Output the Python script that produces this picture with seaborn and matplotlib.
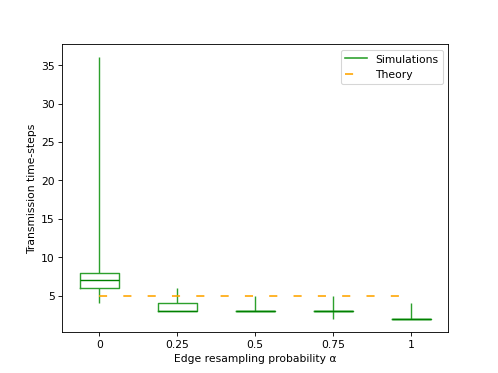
import numpy as np
import pandas as pd
import matplotlib
matplotlib.use("Agg")
import matplotlib.pyplot as plt
import seaborn as sns

# --- data ---
alphas = ["0", "0.25", "0.5", "0.75", "1"]
# small samples that reproduce each box (min, q1, median, q3, max)
sim_a0 = [4, 6, 7, 8, 36]
sim_a025 = [3, 3, 3, 4, 6]
sim_a05 = [3, 3, 3, 3, 5]
sim_a075 = [2, 3, 3, 3, 5]
sim_a1 = [2, 2, 2, 2, 4]
theory = [5, 5, 5, 5, 5]

samples = [sim_a0, sim_a025, sim_a05, sim_a075, sim_a1]
df = pd.DataFrame({
    "alpha": [a for a, s in zip(alphas, samples) for _ in s],
    "steps": [v for s in samples for v in s],
})

fig, ax = plt.subplots(figsize=(6.4, 4.8), dpi=498 / 6.4)

sns.boxplot(data=df, x="alpha", y="steps", order=alphas, ax=ax,
            fill=False, color="#2ca02c", whis=(0, 100), width=0.5,
            linewidth=1.3, showcaps=False, showfliers=False,
            medianprops={"color": "green"})

th_line, = ax.plot(range(len(alphas)), theory, linestyle=(0, (5, 10)),
                   color="orange", linewidth=1.5, label="Theory")

ax.set_xlabel("Edge resampling probability α")
ax.set_ylabel("Transmission time-steps")

sim_line, = ax.plot([], [], color="#2ca02c", linewidth=1.5)
ax.legend([sim_line, th_line], ["Simulations", "Theory"], loc="upper right")

plt.savefig("out.png", dpi=498 / 6.4)
